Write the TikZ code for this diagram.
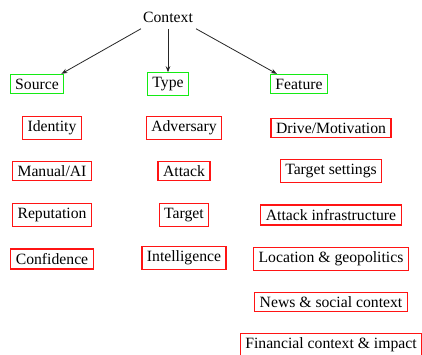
\documentclass[tikz,border=0pt]{standalone}
\usepackage{fontspec}
\setmainfont{Liberation Serif}
\usetikzlibrary{arrows.meta}
\definecolor{boxgreen}{RGB}{20,235,20}
\definecolor{boxred}{RGB}{255,20,20}
\begin{document}
\begin{tikzpicture}[x=1pt,y=-1pt,
  every node/.style={font=\rmfamily\fontsize{15.7}{18}\selectfont, inner xsep=5pt, inner ysep=4.3pt},
  gbox/.style={draw=boxgreen, line width=1.2pt},
  rbox/.style={draw=boxred, line width=1.2pt},
  arr/.style={-{Stealth[length=6pt,width=4.5pt]}, line width=0.8pt, draw=black!85}]
\useasboundingbox (0,0) rectangle (422,355);
\clip (0,0) rectangle (422,355);
\fill[white] (0,0) rectangle (422,355);
\node (ctx) at (168,17) {Context};
\node[gbox] (src) at (37,84) {Source};
\node[gbox] (typ) at (168,84) {Type};
\node[gbox] (fea) at (299,84) {Feature};
\draw[arr] ([xshift=3pt,yshift=-2pt]ctx.south west) -- ([xshift=-3pt]src.north east);
\draw[arr] ([yshift=-2pt]ctx.south) -- (typ.north);
\draw[arr] ([xshift=-2pt,yshift=-2pt]ctx.south east) -- ([xshift=7pt]fea.north west);
% column 1
\node[rbox] (s1) at (52,128) {Identity};
\node[rbox] (s2) at (52,171) {Manual/AI};
\node[rbox] (s3) at (52,215) {Reputation};
\node[rbox] (s4) at (52,259) {Confidence};
% column 2
\node[rbox] (t1) at (184,128) {Adversary};
\node[rbox] (t2) at (184,171) {Attack};
\node[rbox] (t3) at (184,215) {Target};
\node[rbox] (t4) at (184,258) {Intelligence};
% column 3
\node[rbox] (f1) at (331,128) {Drive/Motivation};
\node[rbox] (f2) at (331,171) {Target settings};
\node[rbox] (f3) at (331,215) {Attack infrastructure};
\node[rbox] (f4) at (331,259) {Location \& geopolitics};
\node[rbox] (f5) at (331,302) {News \& social context};
\node[rbox] (f6) at (331,345) {Financial context \& impact};
\end{tikzpicture}
\end{document}
